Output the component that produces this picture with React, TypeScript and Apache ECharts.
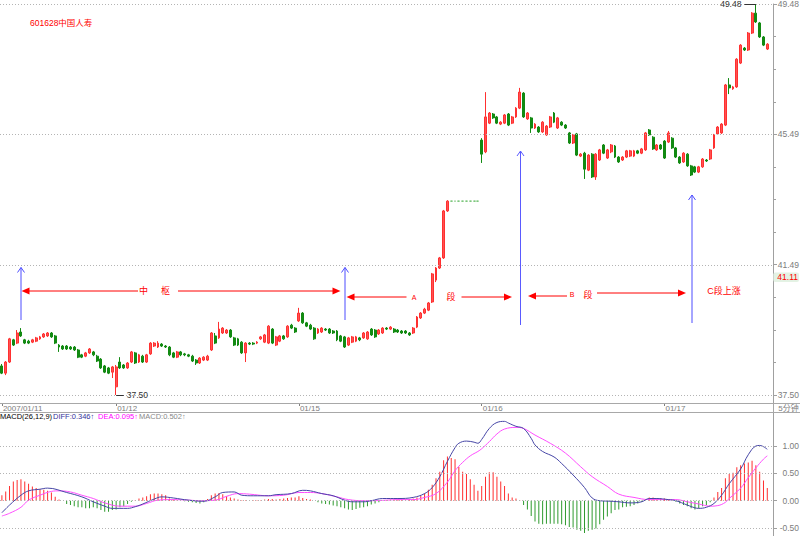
import { useEffect, useRef } from "react";
import * as echarts from "echarts";

const dayLabels = ["2007/01/11", "01/12", "01/15", "01/16", "01/17"];

// candles: [open, close, low, high]
const k0111 = [
  [38.39, 38.17, 38.14, 38.45], [38.17, 38.51, 38.11, 38.54], [38.51, 39.22, 38.48, 39.25], [39.19, 39.03, 39.0, 39.22],
  [39.09, 39.4, 39.06, 39.49], [39.43, 39.31, 39.28, 39.55], [39.19, 39.09, 39.06, 39.22], [39.15, 39.09, 39.06, 39.19],
  [39.12, 39.19, 39.09, 39.22], [39.15, 39.25, 39.12, 39.28], [39.22, 39.28, 39.19, 39.31], [39.28, 39.37, 39.25, 39.4],
  [39.31, 39.4, 39.28, 39.43], [39.4, 39.28, 39.25, 39.43], [39.31, 39.09, 39.06, 39.34], [39.03, 38.97, 38.82, 39.06],
  [39.0, 38.91, 38.88, 39.03], [39.0, 38.91, 38.88, 39.03], [38.97, 38.91, 38.88, 39.0], [38.97, 38.88, 38.85, 39.0],
  [38.88, 38.66, 38.63, 38.91], [38.73, 38.66, 38.63, 38.76], [38.69, 38.79, 38.66, 38.82], [38.79, 38.91, 38.76, 38.94],
  [38.82, 38.73, 38.69, 38.85], [38.69, 38.54, 38.51, 38.73], [38.6, 38.33, 38.3, 38.63], [38.39, 38.2, 38.17, 38.42],
  [38.33, 38.17, 38.14, 38.36], [38.2, 38.36, 38.02, 38.39],
];
const k0112 = [
  [37.75, 38.36, 37.5, 38.42], [38.51, 38.33, 38.3, 38.66], [38.42, 38.33, 38.3, 38.45], [38.33, 38.48, 38.3, 38.51],
  [38.51, 38.82, 38.48, 38.85], [38.79, 38.48, 38.45, 38.82], [38.51, 38.73, 38.48, 38.76], [38.69, 38.51, 38.48, 38.73],
  [38.51, 38.73, 38.48, 38.76], [38.76, 39.09, 38.73, 39.12], [39.0, 39.09, 38.97, 39.12], [38.97, 39.09, 38.94, 39.15],
  [39.06, 39.0, 38.97, 39.09], [39.0, 38.97, 38.94, 39.03], [38.97, 38.73, 38.69, 39.0], [38.79, 38.66, 38.63, 38.82],
  [38.66, 38.82, 38.63, 38.85], [38.82, 38.73, 38.69, 38.85], [38.76, 38.73, 38.69, 38.79], [38.73, 38.69, 38.66, 38.76],
  [38.69, 38.54, 38.51, 38.73], [38.57, 38.48, 38.42, 38.6], [38.48, 38.63, 38.45, 38.66], [38.57, 38.66, 38.54, 38.69],
  [38.57, 38.69, 38.54, 38.73], [38.88, 39.4, 38.85, 39.43], [39.31, 39.09, 39.06, 39.4], [39.25, 39.52, 39.22, 39.74],
  [39.4, 39.55, 39.37, 39.58], [39.4, 39.49, 39.37, 39.52], [39.49, 39.28, 39.25, 39.52], [39.25, 39.03, 39.0, 39.28],
  [39.22, 39.03, 39.0, 39.25], [39.12, 38.79, 38.76, 39.15], [38.79, 39.09, 38.51, 39.12], [39.09, 39.06, 39.03, 39.12],
  [39.09, 39.06, 39.03, 39.12], [39.09, 39.12, 39.06, 39.15], [39.22, 39.28, 39.19, 39.31], [39.12, 39.34, 39.09, 39.37],
  [39.09, 39.61, 39.06, 39.64], [39.52, 39.09, 39.06, 39.55], [39.03, 39.28, 39.0, 39.31], [39.15, 39.31, 39.12, 39.34],
  [39.31, 39.22, 39.19, 39.34], [39.28, 39.61, 39.25, 39.64], [39.64, 39.55, 39.52, 39.68], [39.55, 39.43, 39.4, 39.58],
];
const k0115 = [
  [39.77, 40.01, 39.74, 40.17], [40.01, 39.71, 39.68, 40.04], [39.71, 39.61, 39.58, 39.74], [39.64, 39.52, 39.49, 39.68],
  [39.55, 39.22, 39.19, 39.58], [39.4, 39.52, 39.37, 39.55], [39.43, 39.55, 39.4, 39.58], [39.52, 39.49, 39.46, 39.55],
  [39.52, 39.4, 39.37, 39.55], [39.46, 39.4, 39.37, 39.49], [39.46, 39.19, 39.15, 39.49], [39.31, 39.15, 39.12, 39.34],
  [39.28, 38.97, 38.94, 39.31], [39.03, 39.25, 39.0, 39.28], [39.12, 39.28, 39.09, 39.31], [39.15, 39.28, 39.12, 39.31],
  [39.25, 39.19, 39.15, 39.28], [39.25, 39.4, 39.22, 39.43], [39.22, 39.43, 39.19, 39.46], [39.52, 39.34, 39.31, 39.55],
  [39.49, 39.28, 39.25, 39.52], [39.37, 39.49, 39.34, 39.52], [39.4, 39.55, 39.37, 39.58], [39.55, 39.52, 39.49, 39.58],
  [39.52, 39.58, 39.49, 39.61], [39.52, 39.43, 39.4, 39.55], [39.49, 39.43, 39.4, 39.52], [39.46, 39.4, 39.37, 39.49],
  [39.46, 39.4, 39.37, 39.49], [39.4, 39.34, 39.31, 39.43], [39.4, 39.55, 39.37, 39.58], [39.58, 39.89, 39.55, 39.92],
  [39.86, 40.01, 39.83, 40.04], [40.01, 40.13, 39.98, 40.17], [40.1, 40.32, 40.07, 40.35], [40.35, 41.21, 40.32, 41.24],
  [41.02, 41.39, 40.96, 41.42], [41.39, 41.7, 41.36, 41.73], [41.7, 43.14, 41.67, 43.17], [43.14, 43.44, 43.11, 43.47],
  [43.44, 43.44, 43.44, 43.44], [43.44, 43.44, 43.44, 43.44], [43.44, 43.44, 43.44, 43.44], [43.44, 43.44, 43.44, 43.44],
  [43.44, 43.44, 43.44, 43.44], [43.44, 43.44, 43.44, 43.44], [43.44, 43.44, 43.44, 43.44], [43.44, 43.44, 43.44, 43.44],
];
const k0116 = [
  [45.31, 44.88, 44.61, 45.37], [44.95, 46.02, 44.91, 46.78], [45.83, 46.14, 45.8, 46.17], [46.11, 45.99, 45.96, 46.14],
  [46.02, 45.83, 45.8, 46.05], [45.8, 45.86, 45.77, 45.89], [45.83, 46.08, 45.8, 46.11], [46.11, 45.77, 45.74, 46.14],
  [45.83, 46.02, 45.8, 46.05], [46.02, 46.29, 45.99, 46.32], [46.29, 46.78, 46.26, 46.91], [46.75, 46.02, 45.99, 46.78],
  [45.96, 46.14, 45.93, 46.17], [45.99, 45.68, 45.53, 46.02], [45.68, 45.8, 45.65, 45.83], [45.71, 45.56, 45.53, 45.74],
  [45.56, 45.86, 45.53, 45.89], [45.47, 45.74, 45.44, 45.77], [45.71, 46.02, 45.68, 46.05], [46.14, 45.86, 45.83, 46.17],
  [45.68, 45.99, 45.65, 46.02], [45.86, 45.77, 45.74, 45.89], [45.77, 45.68, 45.65, 45.8], [45.53, 45.22, 45.19, 45.56],
  [45.22, 45.47, 45.19, 45.5], [45.5, 44.85, 44.82, 45.53], [44.82, 44.88, 44.79, 44.91], [44.91, 44.42, 44.12, 44.95],
  [44.39, 44.85, 44.36, 44.88], [44.88, 44.18, 44.15, 44.91], [44.18, 44.88, 44.09, 44.91], [44.7, 45.01, 44.67, 45.04],
  [45.16, 44.91, 44.88, 45.19], [44.76, 45.01, 44.73, 45.04], [44.95, 45.16, 44.91, 45.19], [45.13, 44.79, 44.76, 45.16],
  [44.79, 44.64, 44.61, 44.82], [44.7, 44.79, 44.67, 44.82], [44.79, 44.98, 44.76, 45.01], [44.82, 44.98, 44.79, 45.01],
  [44.82, 44.98, 44.79, 45.01], [44.98, 44.91, 44.88, 45.01], [44.91, 45.04, 44.88, 45.07], [45.01, 45.53, 44.98, 45.56],
  [45.62, 45.47, 45.44, 45.65], [45.4, 45.04, 45.01, 45.43], [45.01, 45.16, 44.98, 45.19], [45.16, 45.04, 45.01, 45.19],
];
const k0117 = [
  [45.28, 44.76, 44.73, 45.31], [45.25, 45.53, 45.22, 45.59], [45.37, 45.07, 45.04, 45.4], [45.07, 44.79, 44.76, 45.1],
  [44.79, 44.61, 44.58, 44.82], [44.64, 44.91, 44.61, 44.94], [44.88, 44.52, 44.49, 44.91], [44.52, 44.24, 44.21, 44.55],
  [44.49, 44.33, 44.3, 44.52], [44.33, 44.49, 44.3, 44.52], [44.49, 44.73, 44.46, 44.76], [44.7, 44.67, 44.64, 44.73],
  [44.73, 45.01, 44.7, 45.04], [45.07, 45.47, 45.04, 45.5], [45.5, 45.71, 45.47, 45.74], [45.53, 45.8, 45.5, 45.83],
  [45.77, 47.0, 45.74, 47.03], [47.0, 46.91, 46.72, 47.21], [46.88, 46.94, 46.85, 46.97], [46.94, 47.79, 46.91, 47.82],
  [47.67, 48.22, 47.64, 48.25], [48.13, 48.07, 48.04, 48.16], [48.07, 48.59, 48.04, 48.62], [48.59, 49.2, 48.56, 49.23],
  [49.2, 48.93, 48.9, 49.48], [48.9, 48.47, 48.44, 48.93], [48.47, 48.22, 48.19, 48.5], [48.1, 48.25, 48.07, 48.28],
];

// MACD histogram per bar
const macd0111 = [0.1, 0.17, 0.27, 0.35, 0.38, 0.39, 0.35, 0.31, 0.26, 0.23, 0.21, 0.2, 0.18, 0.15, 0.07, 0.02, 0.0, -0.06, -0.08, -0.1, -0.12, -0.12, -0.14, -0.14, -0.12, -0.14, -0.17, -0.2, -0.2, -0.17];
const macd0112 = [-0.16, -0.12, -0.1, -0.06, -0.02, 0.01, 0.04, 0.06, 0.08, 0.12, 0.13, 0.13, 0.12, 0.1, 0.04, 0.02, 0.01, 0.0, -0.01, -0.02, -0.03, -0.04, -0.05, -0.03, 0.03, 0.1, 0.13, 0.14, 0.12, 0.08, 0.06, 0.04, 0.02, 0.01, 0.01, 0.0, 0.01, 0.01, 0.01, 0.02, 0.03, 0.03, 0.02, 0.03, 0.04, 0.05, 0.06, 0.06];
const macd0115 = [0.08, 0.05, 0.03, 0.02, 0.0, -0.03, -0.05, -0.06, -0.07, -0.09, -0.1, -0.12, -0.14, -0.16, -0.17, -0.15, -0.13, -0.12, -0.1, -0.07, -0.05, -0.03, 0.0, 0.01, 0.02, 0.02, 0.02, 0.02, 0.02, 0.03, 0.04, 0.06, 0.09, 0.13, 0.2, 0.29, 0.41, 0.53, 0.74, 0.81, 0.78, 0.76, 0.62, 0.53, 0.49, 0.39, 0.29, 0.18];
const macd0116 = [0.27, 0.44, 0.52, 0.52, 0.44, 0.35, 0.27, 0.13, 0.06, 0.04, 0.01, -0.08, -0.16, -0.28, -0.38, -0.42, -0.43, -0.42, -0.42, -0.42, -0.42, -0.43, -0.45, -0.48, -0.49, -0.53, -0.55, -0.59, -0.55, -0.53, -0.51, -0.43, -0.35, -0.29, -0.23, -0.17, -0.16, -0.12, -0.11, -0.1, -0.08, -0.05, -0.02, 0.02, 0.06, 0.06, 0.04, 0.04];
const macd0117 = [0.04, 0.02, 0.01, -0.02, -0.05, -0.08, -0.1, -0.14, -0.16, -0.14, -0.1, -0.08, -0.03, 0.06, 0.16, 0.23, 0.41, 0.49, 0.51, 0.61, 0.65, 0.68, 0.7, 0.73, 0.65, 0.53, 0.37, 0.23];

// DIFF / DEA read points: [bar index, value]
const diffPoints = [
  [0, -0.22], [2, -0.08], [5, 0.1], [7, 0.18], [10, 0.21], [12, 0.23], [17, 0.15], [21, 0.07], [24, -0.02], [27, -0.1],
  [29, -0.14], [33, -0.14], [35, -0.11], [37, -0.06], [40, 0.03], [42, 0.07], [45, 0.05], [49, 0.01], [53, -0.01], [56, 0.07],
  [58, 0.15], [61, 0.16], [63, 0.1], [66, 0.09], [70, 0.09], [72, 0.11], [76, 0.13], [79, 0.19], [81, 0.18], [84, 0.13],
  [87, 0.09], [90, 0.01], [92, -0.02], [95, -0.02], [97, 0.0], [100, 0.04], [104, 0.04], [108, 0.06], [111, 0.13], [113, 0.24],
  [115, 0.44], [117, 0.72], [119, 0.97], [120, 1.05], [122, 1.09], [124, 1.07], [125, 1.05], [126, 1.12], [128, 1.32], [130, 1.43],
  [132, 1.45], [133, 1.42], [135, 1.36], [137, 1.32], [139, 1.14], [140, 1.02], [142, 0.9], [145, 0.8], [147, 0.68], [150, 0.47],
  [153, 0.24], [155, 0.05], [157, 0.0], [160, -0.01], [162, -0.02], [165, -0.04], [168, -0.02], [170, 0.04], [172, 0.04], [175, 0.02],
  [177, 0.0], [180, -0.08], [182, -0.13], [183, -0.14], [185, -0.12], [187, -0.05], [189, 0.1], [191, 0.31], [194, 0.58], [196, 0.84],
  [198, 1.0], [199, 1.01], [201, 0.94],
];
const deaPoints = [
  [0, -0.28], [2, -0.23], [5, -0.12], [7, 0.01], [10, 0.1], [13, 0.17], [15, 0.18], [18, 0.16], [21, 0.1], [24, 0.04],
  [27, -0.04], [31, -0.1], [35, -0.1], [38, -0.05], [41, 0.01], [45, 0.02], [49, 0.01], [52, 0.0], [56, 0.01], [59, 0.08],
  [62, 0.13], [65, 0.12], [70, 0.09], [74, 0.1], [78, 0.15], [81, 0.15], [84, 0.13], [88, 0.07], [91, 0.02], [95, 0.0],
  [97, 0.0], [101, 0.01], [104, 0.02], [108, 0.02], [111, 0.06], [114, 0.13], [117, 0.34], [119, 0.55], [121, 0.7], [123, 0.82],
  [125, 0.9], [126, 0.95], [128, 1.08], [130, 1.22], [132, 1.31], [135, 1.34], [137, 1.32], [140, 1.2], [144, 1.05], [148, 0.87],
  [152, 0.62], [155, 0.44], [159, 0.26], [162, 0.12], [166, 0.06], [170, 0.02], [174, 0.02], [177, 0.02], [180, -0.02], [183, -0.06],
  [186, -0.1], [188, -0.09], [190, -0.03], [191, 0.04], [194, 0.23], [196, 0.42], [198, 0.6], [200, 0.76], [201, 0.82],
];

const priceLabelTicks = [37.5, 41.4933, 45.4867, 49.48];
const priceMinorTicks = [37.5, 38.4983, 39.4967, 40.495, 41.4933, 42.4917, 43.49, 44.4883, 45.4867, 46.485, 47.4833, 48.4817, 49.48];
const macdTicks = [1, 0.5, 0, -0.5];
const markPrice = 41.11;
const lowMark = { index: 30, value: 37.5, toIndex: 32, text: "37.50" };
const highMark = { index: 198, value: 49.48, toIndex: 195, text: "49.48" };
const legendParts = [
  { text: "MACD(26,12,9)", x: 0, color: "#000000" },
  { text: "DIFF:0.346↑", x: 53, color: "#33339a" },
  { text: "DEA:0.095↑", x: 98, color: "#ff00ff" },
  { text: "MACD:0.502↑", x: 139, color: "#888888" },
];

const FF = '"Liberation Sans", Arial, "Noto Sans CJK SC", sans-serif';

function buildOption() {
  const days = [k0111, k0112, k0115, k0116, k0117];
  const candles = days.flat();
  const hist = [macd0111, macd0112, macd0115, macd0116, macd0117].flat();
  const labelAt: Record<number, string> = {};
  let start = 0;
  days.forEach((d, i) => {
    labelAt[start] = dayLabels[i];
    start += d.length;
  });
  const categories = candles.map((_, i) => String(i));
  categories.push(String(candles.length));
  const showAt = (i: number) => labelAt[i] !== undefined;

  const red = "#ff0000";
  const g: any[] = [];
  const hLine = (x1: number, x2: number, y: number, color = red) =>
    g.push({ type: "line", silent: true, z: 50, shape: { x1, y1: y, x2, y2: y }, style: { stroke: color, lineWidth: 1 } });
  const vLine = (x: number, y1: number, y2: number, color: string) =>
    g.push({ type: "line", silent: true, z: 50, shape: { x1: x, y1, x2: x, y2 }, style: { stroke: color, lineWidth: 1 } });
  const head = (tip: number, y: number, dir: number) =>
    g.push({
      type: "polygon", silent: true, z: 50,
      shape: { points: [[tip, y], [tip - dir * 8, y - 3.5], [tip - dir * 8, y + 3.5]] },
      style: { fill: red },
    });
  const txt = (text: string, x: number, y: number, fill = red, size = 9, align = "center") =>
    g.push({
      type: "text", silent: true, z: 50, x, y,
      style: { text, fill, fontSize: size, fontFamily: FF, align, textAlign: align, verticalAlign: "middle", textVerticalAlign: "middle" },
    });
  const vArrow = (x: number, yTop: number, yBot: number, color: string) => {
    vLine(x, yTop, yBot, color);
    g.push({
      type: "polyline", silent: true, z: 50,
      shape: { points: [[x - 3.5, yTop + 5], [x, yTop], [x + 3.5, yTop + 5]] },
      style: { stroke: color, lineWidth: 1, fill: "none" },
    });
  };

  // strip between price and MACD panels
  hLine(0, 800, 403.5, "#a8a8a8");
  hLine(0, 800, 412.5, "#a8a8a8");
  vLine(773.5, 403, 412, "#a8a8a8");
  txt("5分钟", 788.5, 408, "#808080", 8);

  txt("601628中国人寿", 30, 23, red, 8.5, "left");

  // 中枢
  head(21.5, 291, -1);
  hLine(29, 138, 291);
  txt("中", 143.5, 291);
  txt("枢", 165.5, 291);
  hLine(178, 333, 291);
  head(340.5, 291, 1);
  // A 段
  head(346.5, 297, -1);
  hLine(354, 406.5, 297);
  txt("A", 414, 297, red, 7);
  txt("段", 451, 297);
  hLine(461.5, 504, 297);
  head(512, 297, 1);
  // B 段
  head(528, 296, -1);
  hLine(535, 567, 296);
  txt("B", 572, 294.5, red, 7);
  txt("段", 588, 294.5);
  hLine(597, 678, 293);
  head(686, 293, 1);
  txt("C段上涨", 724, 291);

  vArrow(21, 267.5, 320, "#4d4dff");
  vArrow(345, 267.5, 320, "#4d4dff");
  vArrow(520.5, 151, 325, "#5a5aff");
  vArrow(692, 195, 323, "#4d4dff");

  legendParts.forEach((p) => txt(p.text, p.x, 416, p.color, 7.5, "left"));

  const dotted = { type: [1, 2], color: "#b4b4b4", width: 1 };
  const axisGray = "#a0a0a0";
  const labelGray = "#7c7c7c";

  return {
    animation: false,
    backgroundColor: "#ffffff",
    textStyle: { fontFamily: FF },
    grid: [
      { left: 0, right: 27, top: 4, height: 399, outerBoundsMode: "none", containLabel: false },
      { left: 0, right: 27, top: 412, height: 124, outerBoundsMode: "none", containLabel: false },
    ],
    xAxis: [
      {
        type: "category", gridIndex: 0, data: categories, boundaryGap: true,
        axisLine: { show: false, onZero: false },
        axisTick: { show: true, alignWithLabel: true, interval: (i: number) => showAt(i), length: 3, lineStyle: { color: "#808080" } },
        axisLabel: {
          show: true, interval: (i: number) => showAt(i),
          formatter: (v: string) => labelAt[Number(v)] ?? "",
          align: "left", margin: 1, fontSize: 8, color: labelGray, fontFamily: FF, padding: [0, 0, 0, 1],
        },
        splitLine: { show: false },
      },
      { type: "category", gridIndex: 1, data: categories, boundaryGap: true, show: false },
    ],
    yAxis: [
      {
        type: "value", gridIndex: 0, position: "right", min: 37.2549, max: 49.48,
        axisLine: { show: true, lineStyle: { color: axisGray } },
        axisTick: { show: true, length: 4, customValues: priceLabelTicks, lineStyle: { color: axisGray } },
        axisLabel: {
          show: true, customValues: priceLabelTicks, formatter: (v: number) => v.toFixed(2),
          align: "right", margin: 26, fontSize: 8.5, color: labelGray, fontFamily: FF,
        },
        splitLine: { show: false },
      },
      {
        type: "value", gridIndex: 0, position: "right", min: 37.2549, max: 49.48,
        axisLine: { show: false },
        axisTick: { show: true, length: 3, customValues: priceMinorTicks, lineStyle: { color: axisGray } },
        axisLabel: { show: false },
        splitLine: { show: false },
      },
      {
        type: "value", gridIndex: 0, position: "right", min: 37.2549, max: 49.48,
        axisLine: { show: false },
        axisTick: { show: false },
        axisLabel: {
          show: true, customValues: [markPrice], formatter: (v: number) => v.toFixed(2),
          align: "right", margin: 26, fontSize: 8.5, color: "#ff0000", fontFamily: FF,
          backgroundColor: "#e4f2e4", padding: [1, 1, 0, 4], borderRadius: 2,
        },
        splitLine: { show: false },
      },
      {
        type: "value", gridIndex: 1, position: "right", min: -0.6453, max: 1.6216,
        axisLine: { show: true, lineStyle: { color: axisGray } },
        axisTick: { show: true, length: 4, customValues: macdTicks, lineStyle: { color: axisGray } },
        axisLabel: {
          show: true, customValues: macdTicks, formatter: (v: number) => v.toFixed(2),
          align: "right", margin: 26, fontSize: 8.5, color: labelGray, fontFamily: FF,
        },
        splitLine: { show: false },
      },
    ],
    graphic: { elements: g },
    series: [
      {
        type: "candlestick", xAxisIndex: 0, yAxisIndex: 0, data: candles, barWidth: 2.4,
        silent: true,
        itemStyle: {
          color: "#ff5252", color0: "#128a12", borderColor: "#ff3030", borderColor0: "#128a12",
          borderColorDoji: "#6cbf6c", borderWidth: 1,
        },
        markLine: {
          silent: true, symbol: ["none", "none"],
          label: { show: false },
          lineStyle: dotted,
          data: [
            ...priceLabelTicks.map((v) => ({ yAxis: v })),
            [
              { coord: [lowMark.index, lowMark.value], lineStyle: { type: "solid", color: "#333333", width: 1 }, label: { show: true, position: "end", formatter: lowMark.text, color: "#333333", fontSize: 8.5, distance: 3 } },
              { coord: [lowMark.toIndex, lowMark.value], lineStyle: { type: "solid", color: "#333333", width: 1 }, label: { show: true, position: "end", formatter: lowMark.text, color: "#333333", fontSize: 8.5, distance: 3 } },
            ],
            [
              { coord: [highMark.index, highMark.value], lineStyle: { type: "solid", color: "#333333", width: 1 }, label: { show: true, position: "end", formatter: highMark.text, color: "#333333", fontSize: 8.5, distance: 3 } },
              { coord: [highMark.toIndex, highMark.value], lineStyle: { type: "solid", color: "#333333", width: 1 }, label: { show: true, position: "end", formatter: highMark.text, color: "#333333", fontSize: 8.5, distance: 3 } },
            ],
          ],
        },
      },
      {
        type: "bar", xAxisIndex: 1, yAxisIndex: 3, data: hist, barWidth: 1, silent: true,
        itemStyle: { color: (p: any) => (p.value >= 0 ? "#ff2e2e" : "#2f9a2f") },
        markLine: {
          silent: true, symbol: ["none", "none"], label: { show: false },
          lineStyle: dotted,
          data: macdTicks.map((v) => ({ yAxis: v })),
        },
      },
      {
        type: "line", xAxisIndex: 1, yAxisIndex: 3, data: deaPoints, smooth: 0.4, symbol: "none", silent: true,
        lineStyle: { color: "#ff4dff", width: 1 },
      },
      {
        type: "line", xAxisIndex: 1, yAxisIndex: 3, data: diffPoints, smooth: 0.4, symbol: "none", silent: true,
        lineStyle: { color: "#4646a6", width: 1 },
      },
    ],
  };
}

export default function App() {
  const ref = useRef<HTMLDivElement>(null);
  useEffect(() => {
    if (!ref.current) return;
    const chart = echarts.init(ref.current, null, { renderer: "svg" });
    chart.setOption(buildOption() as any);
    return () => chart.dispose();
  }, []);
  return <div ref={ref} style={{ position: "absolute", left: 0, top: 0, width: 800, height: 536 }} />;
}
